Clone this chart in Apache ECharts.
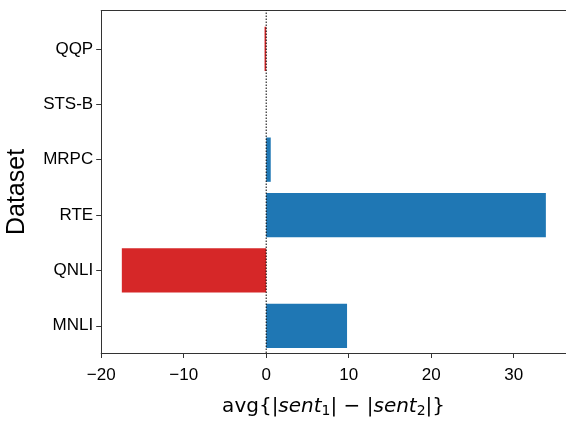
<!DOCTYPE html>
<html><head><meta charset="utf-8">
<script src="https://cdn.jsdelivr.net/npm/echarts@6/dist/echarts.min.js"></script>
<style>html,body{margin:0;padding:0;background:#fff}#c{width:566px;height:423px}</style>
</head><body><div id="c"></div>
<script>
var categories = ['MNLI', 'QNLI', 'RTE', 'MRPC', 'STS-B', 'QQP'];
var values = [9.8, -17.5, 33.9, 0.55, 0, -0.2];
var xTicks = [-20, -10, 0, 10, 20, 30];
var xMin = -20, xMax = 36.34;
var yTitle = 'Dataset';

var chart = echarts.init(document.getElementById('c'), null, {renderer: 'canvas'});
var labelFont = 'Liberation Sans, Arial, sans-serif';
var frameColor = '#333';
var L = 101.2, W = 464.8;
chart.setOption({
  animation: false,
  grid: [
    {left: L, width: W, top: 10.5, height: 353.5, containLabel: false},
    {left: L, width: W, top: 21.2, height: 332.3, containLabel: false}
  ],
  graphic: [
    {type: 'text', x: 17, y: 192, rotation: Math.PI / 2,
     style: {text: yTitle, fontSize: 25, fontFamily: labelFont, fill: '#000',
             align: 'center', verticalAlign: 'middle'}}
  ],
  xAxis: [
    {gridIndex: 0, type: 'value', min: xMin, max: xMax, interval: 10,
     axisLine: {show: true, onZero: false, lineStyle: {color: frameColor, width: 1}},
     axisTick: {show: true, inside: false, length: 5, lineStyle: {color: frameColor}},
     axisLabel: {fontSize: 17, color: '#000', fontFamily: labelFont, margin: 14, showMaxLabel: false,
       formatter: function (v) { return xTicks.indexOf(v) >= 0 ? String(v).replace('-', '\u2212') : ''; }},
     splitLine: {show: false},
     name: '{n|avg\u007b|}{i|sent}{s|1}{n|| \u2212 |}{i|sent}{s|2}{n||\u007d}',
     nameLocation: 'middle', nameGap: 42,
     nameTextStyle: {fontSize: 20, color: '#000', fontFamily: 'DejaVu Sans',
       rich: {
         n: {fontSize: 20, fontFamily: 'DejaVu Sans', color: '#000'},
         i: {fontSize: 20, fontFamily: 'DejaVu Sans', fontStyle: 'italic', color: '#000'},
         s: {fontSize: 14, fontFamily: 'DejaVu Sans', color: '#000', padding: [9, 0, 0, 0]}
       }}
    },
    {gridIndex: 0, type: 'value', min: xMin, max: xMax, position: 'top',
     axisLine: {show: true, onZero: false, lineStyle: {color: frameColor, width: 1}},
     axisTick: {show: false}, axisLabel: {show: false}, splitLine: {show: false}},
    {gridIndex: 1, type: 'value', min: xMin, max: xMax, show: false}
  ],
  yAxis: [
    {gridIndex: 0, type: 'value', min: 0, max: 1,
     axisLine: {show: true, onZero: false, lineStyle: {color: frameColor, width: 1}},
     axisTick: {show: false}, axisLabel: {show: false}, splitLine: {show: false}},
    {gridIndex: 1, type: 'category', data: categories, position: 'left',
     axisLine: {show: false, onZero: false},
     axisTick: {show: true, alignWithLabel: true, length: 5, lineStyle: {color: frameColor}},
     axisLabel: {fontSize: 17, color: '#000', fontFamily: labelFont, margin: 8},
     splitLine: {show: false}}
  ],
  series: [
    {type: 'bar', xAxisIndex: 2, yAxisIndex: 1, barWidth: '80%',
     data: values.map(function (v) {
       return {value: v, itemStyle: {color: v < 0 ? '#d62728' : '#1f77b4'}};
     })
    },
    {type: 'line', xAxisIndex: 0, yAxisIndex: 0, symbol: 'none', silent: true,
     data: [[0, 0], [0, 1]],
     lineStyle: {color: '#000', width: 1, type: [1.5, 1.5]}, z: 5}
  ]
});
</script></body></html>
